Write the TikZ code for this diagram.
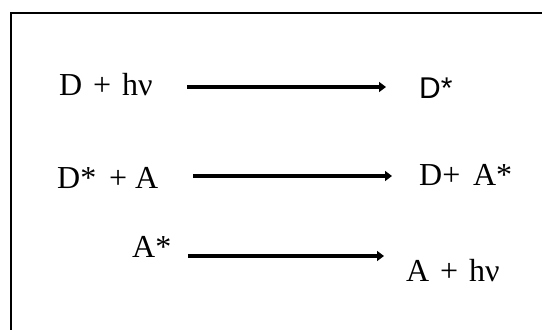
\documentclass[tikz,border=0pt]{standalone}
\usepackage{fontspec}
\setmainfont{Liberation Serif}
\newfontfamily\arialfont{Liberation Sans}
\usetikzlibrary{arrows.meta}
\newcommand{\gap}[1][0.34em]{\hspace{#1}}

\begin{document}
\begin{tikzpicture}[x=1pt,y=-1pt,
  chem/.style={anchor=base west,inner sep=0pt,font=\fontsize{32}{38}\selectfont},
  reac/.style={line width=4.8pt,-{Triangle[length=7pt,width=10pt]}}]
\useasboundingbox (0,0) rectangle (542,330);
% frame, cut off at right and bottom
\draw[line width=2.5pt] (11,331) |- (543,13);
% left side
\node[chem] (l1) at (59,95) {D\gap+\gap hν};
\node[chem] (l2) at (57,188) {D*\gap[0.4em]+\gap[0.25em]A};
\node[chem] (l3) at (132,257) {A*};
% right side
\node[chem,font=\fontsize{30}{36}\arialfont] (r1) at (419,98) {D*};
\node[chem] (r2) at (419,185) {D+\gap[0.4em]A*};
\node[chem] (r3) at (406,281) {A\gap+\gap hν};
% arrows
\coordinate (a1) at (187,87);  \coordinate (b1) at (386,87);
\coordinate (a2) at (193,176); \coordinate (b2) at (392,176);
\coordinate (a3) at (188,256); \coordinate (b3) at (384,256);
\foreach \i in {1,2,3}
\draw[reac] (a\i) -- (b\i);
\end{tikzpicture}
\end{document}
